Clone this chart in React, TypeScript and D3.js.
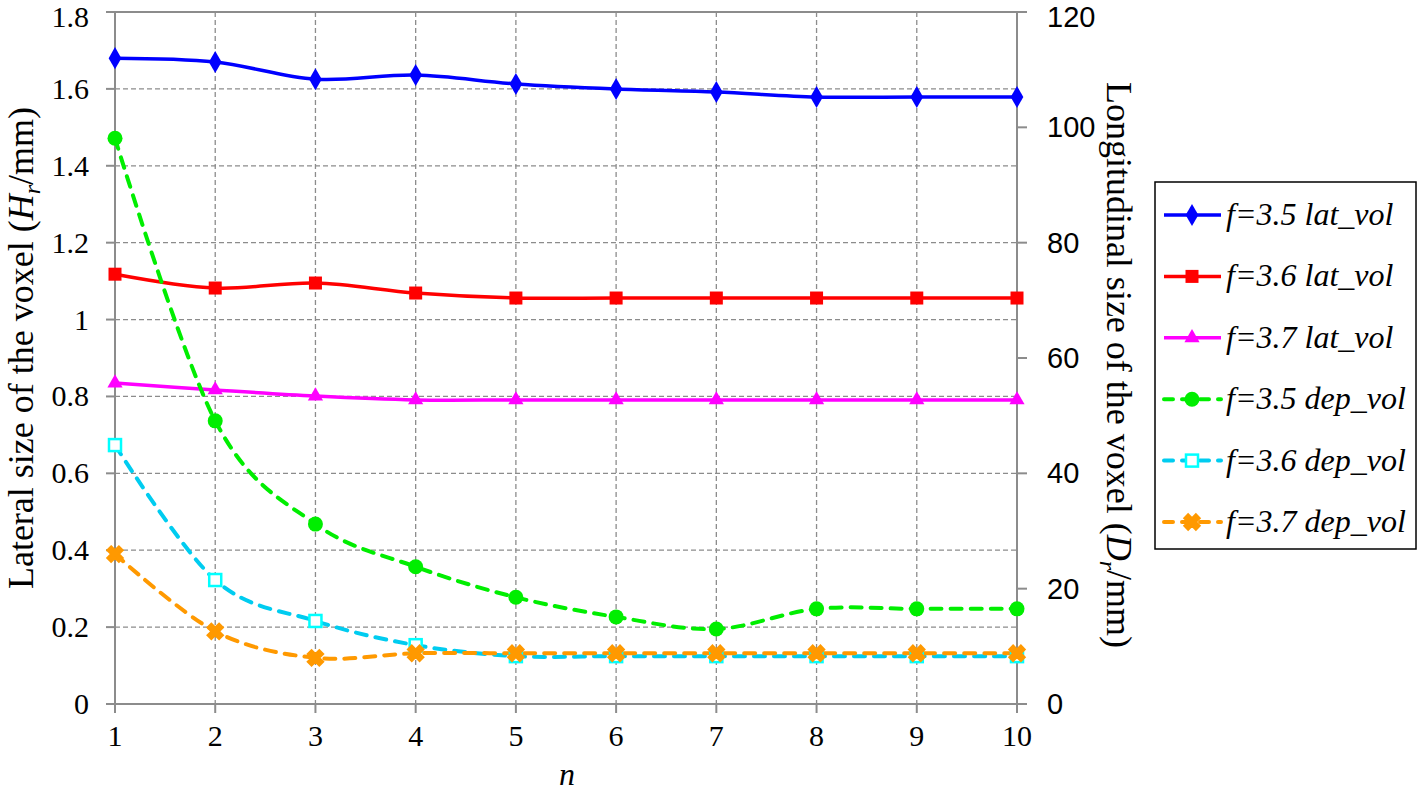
import React from 'react';
import * as d3 from 'd3';

const nValues = [1, 2, 3, 4, 5, 6, 7, 8, 9, 10];
const leftTicks = [0, 0.2, 0.4, 0.6, 0.8, 1, 1.2, 1.4, 1.6, 1.8];
const rightTicks = [0, 20, 40, 60, 80, 100, 120];

// lateral size (left axis, mm)
const lat35 = [1.68, 1.67, 1.625, 1.636, 1.613, 1.6, 1.592, 1.579, 1.579, 1.579];
const lat36 = [1.118, 1.082, 1.095, 1.069, 1.056, 1.056, 1.056, 1.056, 1.056, 1.056];
const lat37 = [0.835, 0.817, 0.801, 0.791, 0.791, 0.791, 0.791, 0.791, 0.791, 0.791];
// longitudinal size (right axis, mm)
const dep35 = [98.1, 49.1, 31.2, 23.8, 18.5, 15.1, 13.0, 16.5, 16.5, 16.5];
const dep36 = [44.9, 21.5, 14.4, 10.2, 8.3, 8.3, 8.3, 8.3, 8.3, 8.3];
const dep37 = [26.0, 12.6, 8.0, 8.8, 8.8, 8.8, 8.8, 8.8, 8.8, 8.8];

const seriesList = [
  { label: '=3.5 lat_vol', values: lat35, axis: 'left', color: '#0000ff', marker: 'diamond', dashed: false },
  { label: '=3.6 lat_vol', values: lat36, axis: 'left', color: '#ff0000', marker: 'square', dashed: false },
  { label: '=3.7 lat_vol', values: lat37, axis: 'left', color: '#ff00ff', marker: 'triangle', dashed: false },
  { label: '=3.5 dep_vol', values: dep35, axis: 'right', color: '#00ee00', marker: 'circle', dashed: true },
  { label: '=3.6 dep_vol', values: dep36, axis: 'right', color: '#00ccf0', marker: 'openSquare', dashed: true },
  { label: '=3.7 dep_vol', values: dep37, axis: 'right', color: '#ff9900', marker: 'star', dashed: true },
];

const W = 1418;
const H = 794;
const left = 115, right = 1017, top = 12, bottom = 704;
const grid = '#8c8c8c';
const serif = '"Liberation Serif", "Times New Roman", serif';
const sans = '"Liberation Sans", Arial, sans-serif';

const Marker = ({ type, x, y, color }) => {
  if (type === 'diamond') {
    return <path d={d3.symbol(d3.symbolDiamond, 140)()} transform={`translate(${x},${y})`} fill={color} />;
  }
  if (type === 'square') {
    return <rect x={x - 6.5} y={y - 6.5} width={13} height={13} fill={color} />;
  }
  if (type === 'triangle') {
    return <path d={d3.symbol(d3.symbolTriangle, 100)()} transform={`translate(${x},${y})`} fill={color} />;
  }
  if (type === 'circle') {
    return <circle cx={x} cy={y} r={7.5} fill={color} />;
  }
  if (type === 'openSquare') {
    return <rect x={x - 6} y={y - 6} width={12} height={12} fill="white" stroke="#00ffff" strokeWidth={2.5} />;
  }
  return <path d={d3.symbol(d3.symbolCross, 150)()} transform={`translate(${x},${y}) rotate(45)`} fill={color} stroke={color} strokeWidth={2} />;
};

export default function App() {
  const x = d3.scaleLinear().domain([1, 10]).range([left, right]);
  const yL = d3.scaleLinear().domain([0, 1.8]).range([bottom, top]);
  const yR = d3.scaleLinear().domain([0, 120]).range([bottom, top]);

  const lineFor = (s) =>
    d3.line<number>()
      .x((_, i) => x(nValues[i]))
      .y((v) => (s.axis === 'left' ? yL(v) : yR(v)))
      .curve(d3.curveCatmullRom.alpha(0))(s.values);

  const legendX = 1155, legendY = 182;
  const legendRow = (i) => 215 + i * 61.4;
  // keep the top tick labels inside the picture
  const labelY = (py) => Math.max(py + 10, 27);

  return (
    <svg width={W} height={H} style={{ position: 'absolute', left: 0, top: 0, background: 'white' }}>
      {/* grid */}
      {leftTicks.slice(1, -1).map((t) => (
        <line key={'h' + t} x1={left} x2={right} y1={yL(t)} y2={yL(t)} stroke={grid} strokeWidth={1.3} strokeDasharray="5,3" />
      ))}
      {nValues.slice(1, -1).map((n) => (
        <line key={'v' + n} x1={x(n)} x2={x(n)} y1={top} y2={bottom} stroke={grid} strokeWidth={1.3} strokeDasharray="5,3" />
      ))}
      {/* frame */}
      <line x1={left} x2={right} y1={top} y2={top} stroke={grid} strokeWidth={2} />
      <line x1={left} x2={right} y1={bottom} y2={bottom} stroke={grid} strokeWidth={2} />
      <line x1={left} x2={left} y1={top} y2={bottom} stroke={grid} strokeWidth={2} />
      <line x1={right} x2={right} y1={top} y2={bottom} stroke={grid} strokeWidth={2} />

      {/* left axis */}
      {leftTicks.map((t) => (
        <g key={'lt' + t}>
          <line x1={left - 9} x2={left} y1={yL(t)} y2={yL(t)} stroke={grid} strokeWidth={2} />
          <text x={89} y={labelY(yL(t))} textAnchor="end" fontFamily={serif} fontSize={30}>{t === 0 || t === 1 ? String(t) : t.toFixed(1)}</text>
        </g>
      ))}
      {/* right axis */}
      {rightTicks.map((t) => (
        <g key={'rt' + t}>
          <line x1={right} x2={right + 10} y1={yR(t)} y2={yR(t)} stroke={grid} strokeWidth={2} />
          <text x={1047} y={labelY(yR(t))} textAnchor="start" fontFamily={sans} fontSize={29}>{t}</text>
        </g>
      ))}
      {/* bottom axis */}
      {nValues.map((n) => (
        <g key={'bt' + n}>
          <line x1={x(n)} x2={x(n)} y1={bottom} y2={bottom + 9} stroke={grid} strokeWidth={2} />
          <text x={x(n)} y={746} textAnchor="middle" fontFamily={serif} fontSize={30}>{n}</text>
        </g>
      ))}
      <text x={567} y={785} textAnchor="middle" fontFamily={serif} fontStyle="italic" fontSize={32}>n</text>

      <text transform="translate(33,348) rotate(-90)" textAnchor="middle" fontFamily={serif} fontSize={36}>
        Lateral size of the voxel (<tspan fontStyle="italic">H</tspan>
        <tspan fontStyle="italic" fontSize={24} dy={7}>r</tspan>
        <tspan dy={-7}>/mm)</tspan>
      </text>
      <text transform="translate(1107,365) rotate(90)" textAnchor="middle" fontFamily={serif} fontSize={36}>
        Longitudinal size of the voxel (<tspan fontStyle="italic">D</tspan>
        <tspan fontStyle="italic" fontSize={24} dy={7}>r</tspan>
        <tspan dy={-7}>/mm)</tspan>
      </text>

      {/* series */}
      {seriesList.map((s, si) => (
        <path key={'s' + si} d={lineFor(s)} fill="none" stroke={s.color} strokeWidth={s.dashed ? 4 : 3.5}
          strokeLinecap={s.dashed ? 'round' : 'butt'} strokeDasharray={s.dashed ? '11,9' : null} />
      ))}
      {seriesList.map((s, si) => (
        <g key={'m' + si}>
          {s.values.map((v, i) => (
            <Marker key={i} type={s.marker} x={x(nValues[i])} y={s.axis === 'left' ? yL(v) : yR(v)} color={s.color} />
          ))}
        </g>
      ))}

      {/* legend */}
      <rect x={legendX} y={legendY} width={261} height={367} fill="white" stroke="#000" strokeWidth={1.5} />
      {seriesList.map((s, i) => (
        <g key={'lg' + i}>
          <line x1={1164} x2={1221} y1={legendRow(i)} y2={legendRow(i)} stroke={s.color} strokeWidth={s.dashed ? 4 : 3.5}
            strokeLinecap={s.dashed ? 'round' : 'butt'} strokeDasharray={s.dashed ? '9,9' : null} />
          <Marker type={s.marker} x={1192} y={legendRow(i)} color={s.color} />
          <text x={1226} y={legendRow(i) + 10} fontFamily={serif} fontStyle="italic" fontSize={32}>f{s.label}</text>
        </g>
      ))}
    </svg>
  );
}
